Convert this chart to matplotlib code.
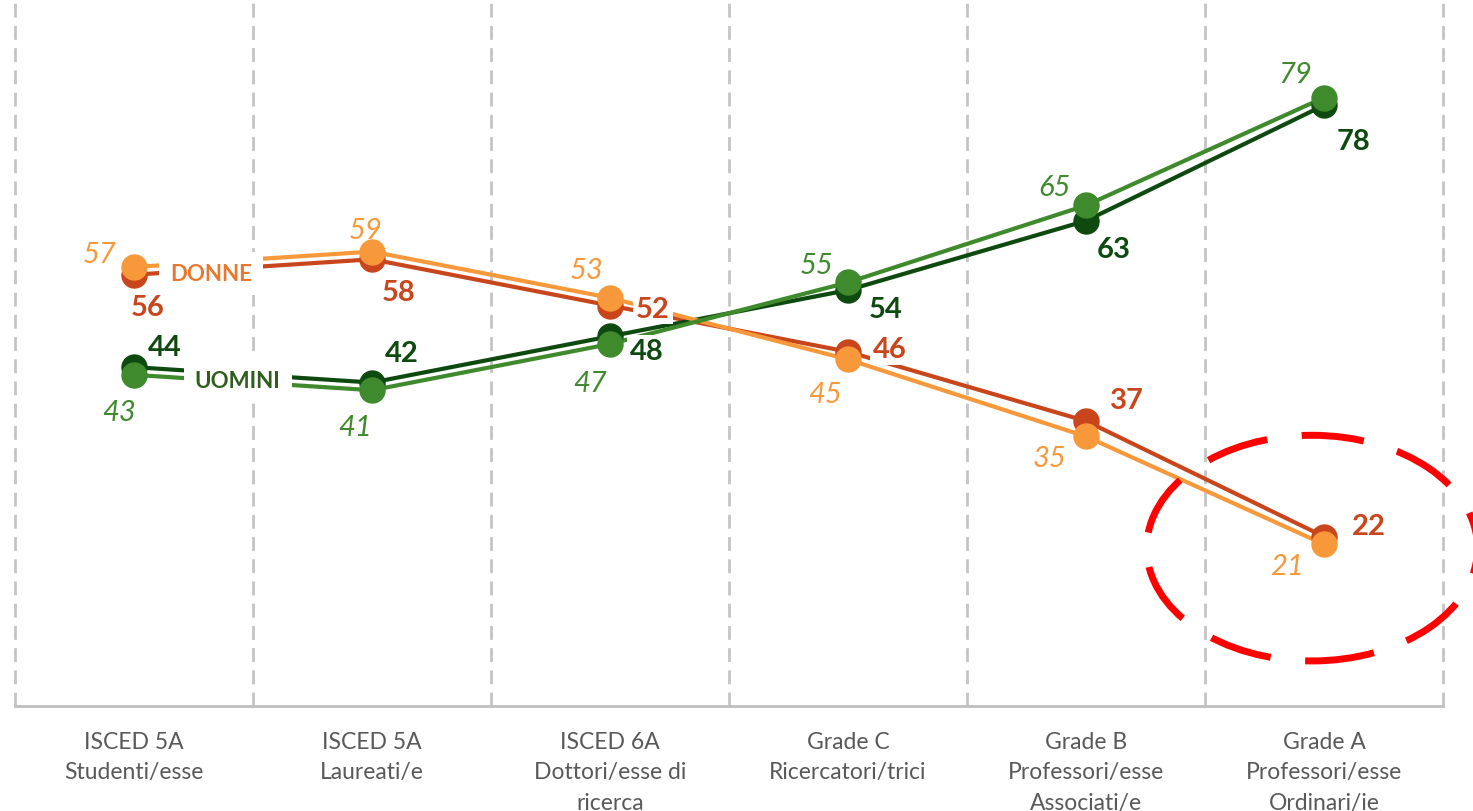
import matplotlib.pyplot as plt
from matplotlib.patches import Ellipse

categories = ['ISCED 5A\nStudenti/esse', 'ISCED 5A\nLaureati/e', 'ISCED 6A\nDottori/esse di\nricerca',
              'Grade C\nRicercatori/trici', 'Grade B\nProfessori/esse\nAssociati/e',
              'Grade A\nProfessori/esse\nOrdinari/ie']
donne_a = [56, 58, 52, 46, 37, 22]     # red, bold labels
donne_b = [57, 59, 53, 45, 35, 21]     # orange, italic labels
uomini_a = [44, 42, 48, 54, 63, 78]    # dark green, bold labels
uomini_b = [43, 41, 47, 55, 65, 79]    # light green, italic labels

plt.rcParams['font.family'] = ['Lato', 'DejaVu Sans']

fig = plt.figure(figsize=(14.73, 8.12), dpi=100)
ax = fig.add_axes([15 / 1473, 105 / 812, 1428 / 1473, 707 / 812])
x = list(range(len(categories)))

red = '#C9451C'
orange = '#F7993B'
dkgreen = '#0E4A10'
ltgreen = '#3F8A2C'

# label offsets in pixels (dx, dy)
off_red = [(14, -32), (27, -33), (43, -3), (42, 3), (41, 21), (45, 11)]
off_orange = [(-34, 13), (-6, 22), (-23, 28), (-23, -35), (-36, -22), (-37, -22)]
off_dkgreen = [(31, 20), (30, 30), (37, -15), (38, -19), (28, -28), (30, -36)]
off_ltgreen = [(-15, -37), (-17, -37), (-20, -39), (-31, 17), (-32, 18), (-29, 24)]

series = [
    (donne_a, red, off_red, 'bold', 'normal', 3),
    (donne_b, orange, off_orange, 'normal', 'italic', 4),
    (uomini_a, dkgreen, off_dkgreen, 'bold', 'normal', 3),
    (uomini_b, ltgreen, off_ltgreen, 'normal', 'italic', 4),
]

for vals, col, offs, fw, fs, z in series:
    ax.plot(x, vals, color=col, lw=3, zorder=z, solid_capstyle='butt')
    ax.plot(x, vals, 'o', color=col, ms=18, zorder=z + 10)
    for xi, v, (dx, dy) in zip(x, vals, offs):
        ax.annotate(str(v), (xi, v), xytext=(dx, dy), textcoords='offset pixels',
                    ha='center', va='center', fontsize=21, color=col,
                    fontweight=fw, style=fs, zorder=9,
                    bbox=dict(boxstyle='square,pad=0.1', fc='white', ec='none'))

ax.text(0.325, 56.2, 'DONNE', ha='center', va='center', fontsize=16, fontweight='bold',
        color='#E8782E', zorder=9, bbox=dict(boxstyle='square,pad=0.5', fc='white', ec='none'))
ax.text(0.435, 42.2, 'UOMINI', ha='center', va='center', fontsize=16, fontweight='bold',
        color='#2F5E1C', zorder=9, bbox=dict(boxstyle='square,pad=0.5', fc='white', ec='none'))

for b in [i - 0.5 for i in range(len(categories) + 1)]:
    ax.axvline(b, color='#C4C4C4', lw=2, ls=(0, (5, 3)), zorder=1, clip_on=False)

ax.add_patch(Ellipse((4.95, 20.5), 1.39, 29.3, fill=False, ec='#FF0000', lw=5,
                     ls=(0, (9, 5)), zorder=20, clip_on=False))

ax.set_xlim(-0.5, 5.5)
ax.set_ylim(0, 91.8)
ax.set_yticks([])
ax.set_xticks(x)
ax.set_xticklabels(categories, fontsize=16.5, color='#595959', linespacing=1.55)
ax.tick_params(axis='x', length=0, pad=18)
for s in ['top', 'left', 'right']:
    ax.spines[s].set_visible(False)
ax.spines['bottom'].set_color('#BFBFBF')
ax.spines['bottom'].set_linewidth(2)

fig.savefig('out.png', dpi=100)
